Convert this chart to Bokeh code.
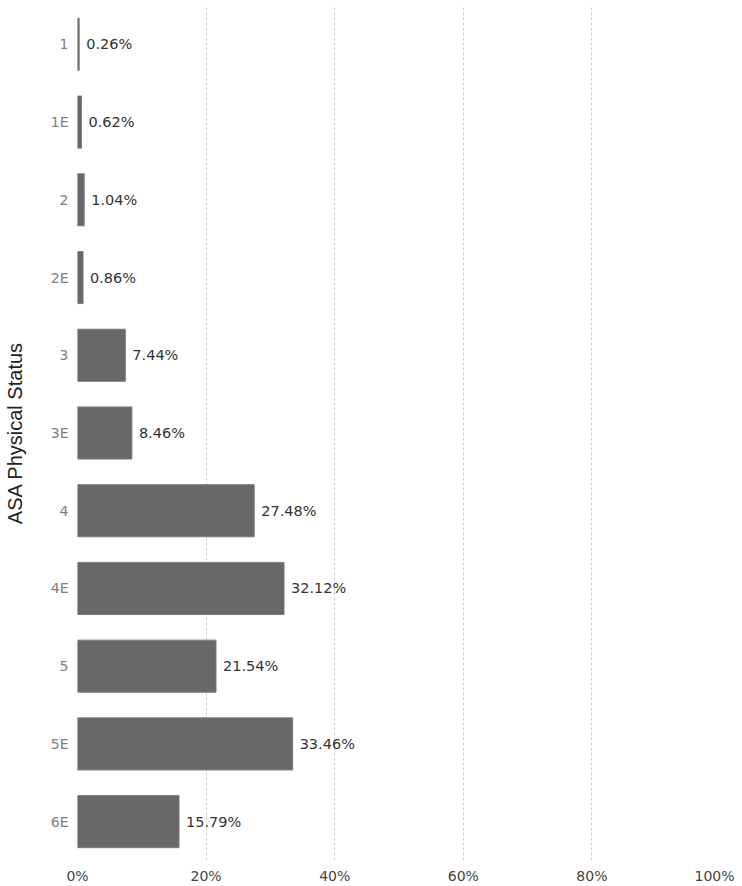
from bokeh.plotting import figure
from bokeh.models import ColumnDataSource, FixedTicker, PrintfTickFormatter
from bokeh.core.properties import value
from bokeh.embed import file_html
from bokeh.resources import INLINE

categories = ["1", "1E", "2", "2E", "3", "3E", "4", "4E", "5", "5E", "6E"]
percents = [0.26, 0.62, 1.04, 0.86, 7.44, 8.46, 27.48, 32.12, 21.54, 33.46, 15.79]
x_ticks = [0, 20, 40, 60, 80, 100]

labels = [f"{v:.2f}%" for v in percents]
src = ColumnDataSource(dict(cat=categories, pct=percents, lab=labels))

FONT = "DejaVu Sans"
TITLE_FONT = "Liberation Sans"

p = figure(width=734, height=886, y_range=list(reversed(categories)),
           x_range=(0, 100), output_backend="svg", toolbar_location=None,
           min_border_left=77, min_border_right=14, min_border_top=5,
           min_border_bottom=23)
p.outline_line_color = None
p.background_fill_color = "white"

p.hbar(y="cat", right="pct", left=0, height=0.67, source=src,
       fill_color="#686868", line_color="#7a7a7a", line_width=1)
p.text(x="pct", y="cat", text="lab", source=src, x_offset=7,
       text_baseline="middle", text_align="left", text_font=value(FONT),
       text_font_size="14.5px", text_color="#333333")

p.xaxis.ticker = FixedTicker(ticks=x_ticks)
p.xaxis.formatter = PrintfTickFormatter(format="%d%%")
p.xaxis.axis_line_color = None
p.xaxis.major_tick_line_color = None
p.xaxis.major_tick_out = 0
p.xaxis.major_tick_in = 0
p.xaxis.minor_tick_line_color = None
p.xaxis.major_label_text_font = FONT
p.xaxis.major_label_text_font_size = "14px"
p.xaxis.major_label_text_color = "#444444"
p.xaxis.major_label_standoff = 7

p.yaxis.axis_line_color = None
p.yaxis.major_tick_line_color = None
p.yaxis.major_tick_out = 0
p.yaxis.major_tick_in = 0
p.yaxis.minor_tick_line_color = None
p.yaxis.major_label_text_font = FONT
p.yaxis.major_label_text_font_size = "14px"
p.yaxis.major_label_text_color = "#808080"
p.yaxis.major_label_standoff = 9
p.yaxis.axis_label = "ASA Physical Status"
p.yaxis.axis_label_text_font = TITLE_FONT
p.yaxis.axis_label_text_font_style = "normal"
p.yaxis.axis_label_text_font_size = "20px"
p.yaxis.axis_label_text_color = "#222222"
p.yaxis.axis_label_standoff = 22

p.ygrid.grid_line_color = None
p.xgrid.grid_line_color = "#d0d0d0"
p.xgrid.grid_line_dash = "3 2"
p.xgrid.grid_line_width = 1

open("out.html", "w").write(file_html(p, INLINE))
